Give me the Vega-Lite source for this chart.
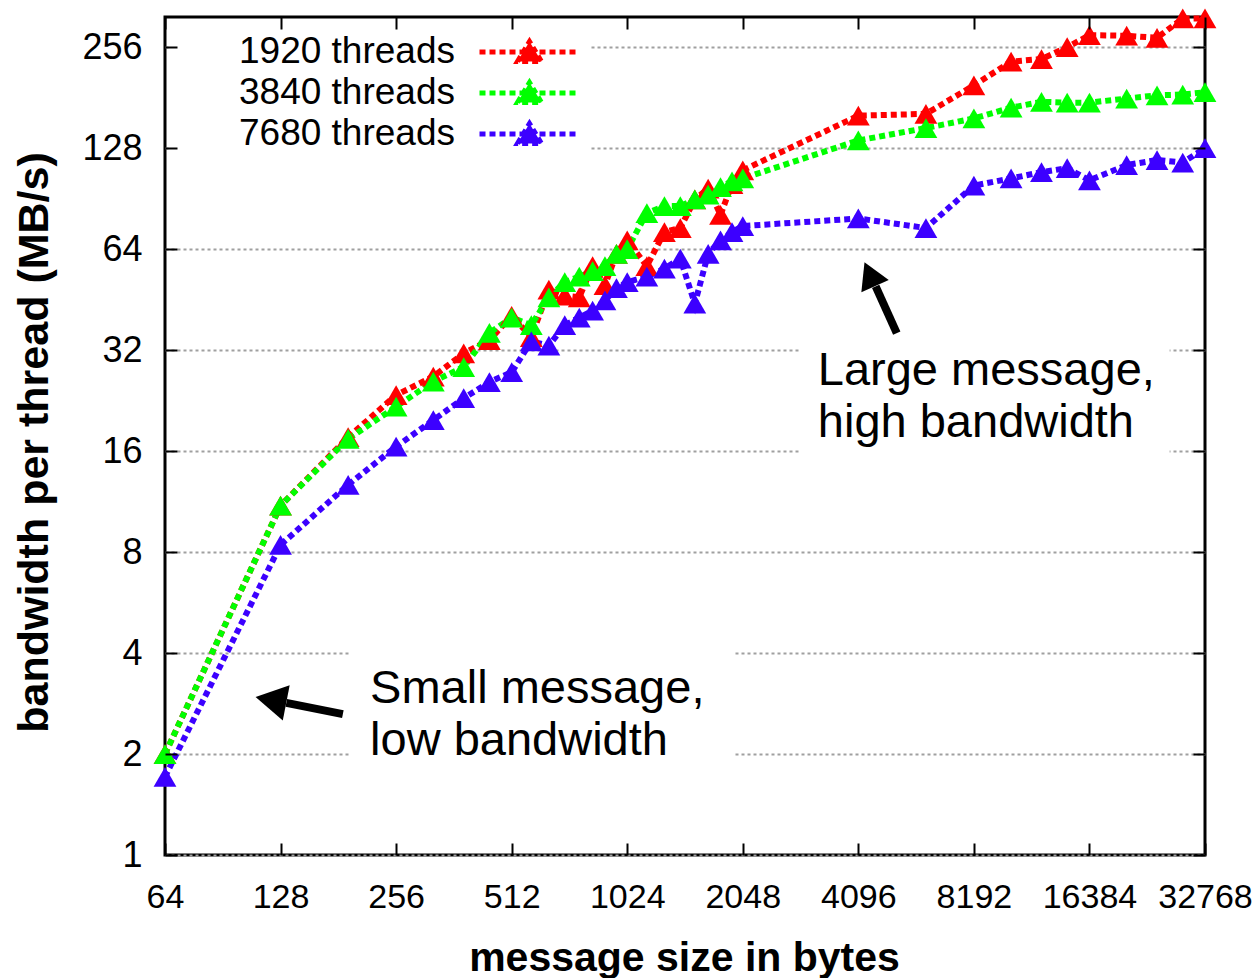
{
  "$schema": "https://vega.github.io/schema/vega-lite/v6.json",
  "width": 1040,
  "height": 838,
  "autosize": {"type": "none"},
  "padding": {"left": 165, "top": 17, "right": 55, "bottom": 123},
  "background": "white",
  "view": {"stroke": "#000", "strokeWidth": 3},
  "config": {"font": "Liberation Sans"},
  "datasets": {
    "series": [
      {"s": "1920 threads", "x": 64, "y": 2.0},
      {"s": "1920 threads", "x": 128, "y": 11.0},
      {"s": "1920 threads", "x": 192, "y": 17.6},
      {"s": "1920 threads", "x": 256, "y": 23.5},
      {"s": "1920 threads", "x": 320, "y": 26.7},
      {"s": "1920 threads", "x": 384, "y": 31.3},
      {"s": "1920 threads", "x": 448, "y": 34.3},
      {"s": "1920 threads", "x": 512, "y": 40.5},
      {"s": "1920 threads", "x": 576, "y": 35},
      {"s": "1920 threads", "x": 640, "y": 48.5},
      {"s": "1920 threads", "x": 704, "y": 46.5},
      {"s": "1920 threads", "x": 768, "y": 46},
      {"s": "1920 threads", "x": 832, "y": 57},
      {"s": "1920 threads", "x": 896, "y": 50},
      {"s": "1920 threads", "x": 960, "y": 62},
      {"s": "1920 threads", "x": 1024, "y": 68},
      {"s": "1920 threads", "x": 1152, "y": 57},
      {"s": "1920 threads", "x": 1280, "y": 72},
      {"s": "1920 threads", "x": 1408, "y": 74},
      {"s": "1920 threads", "x": 1536, "y": 90},
      {"s": "1920 threads", "x": 1664, "y": 97},
      {"s": "1920 threads", "x": 1792, "y": 81},
      {"s": "1920 threads", "x": 1920, "y": 100},
      {"s": "1920 threads", "x": 2048, "y": 110},
      {"s": "1920 threads", "x": 4096, "y": 160},
      {"s": "1920 threads", "x": 6144, "y": 162},
      {"s": "1920 threads", "x": 8192, "y": 197},
      {"s": "1920 threads", "x": 10240, "y": 232},
      {"s": "1920 threads", "x": 12288, "y": 236},
      {"s": "1920 threads", "x": 14336, "y": 256},
      {"s": "1920 threads", "x": 16384, "y": 278},
      {"s": "1920 threads", "x": 20480, "y": 277},
      {"s": "1920 threads", "x": 24576, "y": 273},
      {"s": "1920 threads", "x": 28672, "y": 312},
      {"s": "1920 threads", "x": 32768, "y": 312},
      {"s": "3840 threads", "x": 64, "y": 2.0},
      {"s": "3840 threads", "x": 128, "y": 11.0},
      {"s": "3840 threads", "x": 192, "y": 17.4},
      {"s": "3840 threads", "x": 256, "y": 21.7},
      {"s": "3840 threads", "x": 320, "y": 25.8},
      {"s": "3840 threads", "x": 384, "y": 28.5},
      {"s": "3840 threads", "x": 448, "y": 36},
      {"s": "3840 threads", "x": 512, "y": 40},
      {"s": "3840 threads", "x": 576, "y": 38},
      {"s": "3840 threads", "x": 640, "y": 46},
      {"s": "3840 threads", "x": 704, "y": 51},
      {"s": "3840 threads", "x": 768, "y": 53},
      {"s": "3840 threads", "x": 832, "y": 55},
      {"s": "3840 threads", "x": 896, "y": 57},
      {"s": "3840 threads", "x": 960, "y": 62},
      {"s": "3840 threads", "x": 1024, "y": 64},
      {"s": "3840 threads", "x": 1152, "y": 82},
      {"s": "3840 threads", "x": 1280, "y": 86},
      {"s": "3840 threads", "x": 1408, "y": 86},
      {"s": "3840 threads", "x": 1536, "y": 90},
      {"s": "3840 threads", "x": 1664, "y": 93},
      {"s": "3840 threads", "x": 1792, "y": 98},
      {"s": "3840 threads", "x": 1920, "y": 102},
      {"s": "3840 threads", "x": 2048, "y": 104},
      {"s": "3840 threads", "x": 4096, "y": 135},
      {"s": "3840 threads", "x": 6144, "y": 147},
      {"s": "3840 threads", "x": 8192, "y": 157},
      {"s": "3840 threads", "x": 10240, "y": 169},
      {"s": "3840 threads", "x": 12288, "y": 176},
      {"s": "3840 threads", "x": 14336, "y": 175},
      {"s": "3840 threads", "x": 16384, "y": 175},
      {"s": "3840 threads", "x": 20480, "y": 180},
      {"s": "3840 threads", "x": 24576, "y": 184},
      {"s": "3840 threads", "x": 28672, "y": 185},
      {"s": "3840 threads", "x": 32768, "y": 188},
      {"s": "7680 threads", "x": 64, "y": 1.71},
      {"s": "7680 threads", "x": 128, "y": 8.4},
      {"s": "7680 threads", "x": 192, "y": 12.7},
      {"s": "7680 threads", "x": 256, "y": 16.5},
      {"s": "7680 threads", "x": 320, "y": 19.8},
      {"s": "7680 threads", "x": 384, "y": 23},
      {"s": "7680 threads", "x": 448, "y": 25.7},
      {"s": "7680 threads", "x": 512, "y": 27.5},
      {"s": "7680 threads", "x": 576, "y": 34},
      {"s": "7680 threads", "x": 640, "y": 33},
      {"s": "7680 threads", "x": 704, "y": 38},
      {"s": "7680 threads", "x": 768, "y": 40},
      {"s": "7680 threads", "x": 832, "y": 42},
      {"s": "7680 threads", "x": 896, "y": 45},
      {"s": "7680 threads", "x": 960, "y": 49},
      {"s": "7680 threads", "x": 1024, "y": 51},
      {"s": "7680 threads", "x": 1152, "y": 53},
      {"s": "7680 threads", "x": 1280, "y": 56},
      {"s": "7680 threads", "x": 1408, "y": 60},
      {"s": "7680 threads", "x": 1536, "y": 44},
      {"s": "7680 threads", "x": 1664, "y": 62},
      {"s": "7680 threads", "x": 1792, "y": 68},
      {"s": "7680 threads", "x": 1920, "y": 72},
      {"s": "7680 threads", "x": 2048, "y": 75},
      {"s": "7680 threads", "x": 4096, "y": 79},
      {"s": "7680 threads", "x": 6144, "y": 74},
      {"s": "7680 threads", "x": 8192, "y": 99},
      {"s": "7680 threads", "x": 10240, "y": 104},
      {"s": "7680 threads", "x": 12288, "y": 108.6},
      {"s": "7680 threads", "x": 14336, "y": 111.6},
      {"s": "7680 threads", "x": 16384, "y": 102.7},
      {"s": "7680 threads", "x": 20480, "y": 114},
      {"s": "7680 threads", "x": 24576, "y": 118},
      {"s": "7680 threads", "x": 28672, "y": 116},
      {"s": "7680 threads", "x": 32768, "y": 128}
    ],
    "boxes": [
      {"x": 65.5, "x2": 818, "y": 122, "y2": 298},
      {"x": 2882, "x2": 26500, "y": 15.57, "y2": 34.3},
      {"x": 194, "x2": 1952, "y": 1.79, "y2": 4.37}
    ],
    "notes": [
      {"x": 3212, "y": 25.2, "t": "Large message,"},
      {"x": 3212, "y": 17.6, "t": "high bandwidth"},
      {"x": 219, "y": 2.84, "t": "Small message,"},
      {"x": 219, "y": 1.99, "t": "low bandwidth"}
    ],
    "shafts": [
      {"x": 5158, "y": 35.96, "x2": 4545, "y2": 49.6},
      {"x": 186, "y": 2.63, "x2": 132.5, "y2": 2.84}
    ]
  },
  "resolve": {"axis": {"x": "independent", "y": "independent"}},
  "layer": [
    {
      "data": {"name": "boxes"},
      "mark": {"type": "rect", "fill": "white"},
      "encoding": {
        "x": {"field": "x", "type": "quantitative",
          "scale": {"type": "log", "base": 2, "domain": [64, 32768], "nice": false},
          "axis": {"orient": "top", "values": [64, 128, 256, 512, 1024, 2048, 4096, 8192, 16384, 32768], "labels": false, "domain": false, "grid": false, "ticks": true, "tickSize": -12, "tickWidth": 2, "tickColor": "#000", "title": null, "zindex": 1}},
        "x2": {"field": "x2"},
        "y": {"field": "y", "type": "quantitative",
          "scale": {"type": "log", "base": 2, "domain": [1, 315], "nice": false},
          "axis": {"orient": "right", "values": [1, 2, 4, 8, 16, 32, 64, 128, 256], "labels": false, "domain": false, "grid": false, "ticks": true, "tickSize": -12, "tickWidth": 2, "tickColor": "#000", "title": null, "zindex": 1}},
        "y2": {"field": "y2"}
      }
    },
    {
      "data": {"name": "series"},
      "encoding": {
        "x": {"field": "x", "type": "quantitative",
          "scale": {"type": "log", "base": 2, "domain": [64, 32768], "nice": false},
          "axis": {"orient": "bottom", "values": [64, 128, 256, 512, 1024, 2048, 4096, 8192, 16384, 32768], "format": "d", "grid": false, "domain": false, "tickSize": -12, "tickWidth": 2, "tickColor": "#000", "labelFont": "Liberation Sans", "labelFontSize": 34, "labelColor": "#000", "labelPadding": 37, "labelFlush": false, "labelOverlap": false, "title": "message size in bytes", "titleFont": "Liberation Sans", "titleFontSize": 41, "titleFontWeight": "bold", "titleColor": "#000", "titleX": 519, "titleY": 115, "titleAlign": "center", "titleBaseline": "alphabetic", "zindex": 1}},
        "y": {"field": "y", "type": "quantitative",
          "scale": {"type": "log", "base": 2, "domain": [1, 315], "nice": false},
          "axis": {"orient": "left", "values": [1, 2, 4, 8, 16, 32, 64, 128, 256], "format": "d", "grid": false, "domain": false, "tickSize": -12, "tickWidth": 2, "tickColor": "#000", "labelFont": "Liberation Sans", "labelFontSize": 36, "labelColor": "#000", "labelPadding": 35, "labelFlush": false, "labelOverlap": false, "title": "bandwidth per thread (MB/s)", "titleFont": "Liberation Sans", "titleFontSize": 43, "titleFontWeight": "bold", "titleColor": "#000", "titleAngle": -90, "titleX": -131, "titleY": 425, "titleAlign": "center", "titleBaseline": "middle", "zindex": 1}},
        "color": {"field": "s", "type": "nominal",
          "scale": {"domain": ["1920 threads", "3840 threads", "7680 threads"], "range": ["#ff0000", "#00ff00", "#3c00ff"]},
          "legend": {"orient": "none", "legendX": 62, "legendY": 16.5, "title": null, "padding": 0,
            "symbolType": "M-5,0L5,0M-1.2,0.95L0,-1.05L1.2,0.95Z", "symbolSize": 400, "symbolStrokeWidth": 5, "symbolDash": [6, 4], "symbolOffset": 284,
            "labelOffset": -93, "labelAlign": "right", "labelFont": "Liberation Sans", "labelFontSize": 37, "labelColor": "#000", "labelLimit": 500, "rowPadding": 1,
            "encode": {"symbols": {"update": {"fill": {"scale": "color", "field": "value"}, "stroke": {"scale": "color", "field": "value"}, "opacity": {"value": 1}}}}}}
      },
      "layer": [
        {"mark": {"type": "line", "strokeWidth": 6, "strokeDash": [6, 4], "strokeCap": "butt"}},
        {"mark": {"type": "point", "shape": "triangle-up", "filled": true, "size": 520, "opacity": 1, "strokeWidth": 0}}
      ]
    },
    {
      "data": {"name": "notes"},
      "mark": {"type": "text", "align": "left", "baseline": "alphabetic", "font": "Liberation Sans", "fontSize": 47, "color": "#000"},
      "encoding": {
        "x": {"field": "x", "type": "quantitative",
          "scale": {"type": "log", "base": 2, "domain": [64, 32768], "nice": false}, "axis": null},
        "y": {"field": "y", "type": "quantitative",
          "scale": {"type": "log", "base": 2, "domain": [1, 315], "nice": false},
          "axis": {"orient": "left", "values": [1, 2, 4, 8, 16, 32, 64, 128, 256], "labels": false, "ticks": false, "domain": false, "grid": true, "gridColor": "#a0a0a0", "gridDash": [3, 3], "gridWidth": 2, "gridOpacity": 1, "title": null, "zindex": 0}},
        "text": {"field": "t"}
      }
    },
    {
      "data": {"name": "shafts"},
      "mark": {"type": "rule", "strokeWidth": 8, "color": "#000", "strokeCap": "butt"},
      "encoding": {
        "x": {"field": "x", "type": "quantitative",
          "scale": {"type": "log", "base": 2, "domain": [64, 32768], "nice": false}, "axis": null},
        "y": {"field": "y", "type": "quantitative",
          "scale": {"type": "log", "base": 2, "domain": [1, 315], "nice": false}, "axis": null},
        "x2": {"field": "x2"},
        "y2": {"field": "y2"}
      }
    },
    {
      "data": {"values": [{"x": 4387, "y": 53.9}]},
      "mark": {"type": "point", "shape": "triangle-up", "filled": true, "size": 900, "angle": 336, "color": "#000", "opacity": 1},
      "encoding": {
        "x": {"field": "x", "type": "quantitative",
          "scale": {"type": "log", "base": 2, "domain": [64, 32768], "nice": false}, "axis": null},
        "y": {"field": "y", "type": "quantitative",
          "scale": {"type": "log", "base": 2, "domain": [1, 315], "nice": false}, "axis": null}
      }
    },
    {
      "data": {"values": [{"x": 120.8, "y": 2.9}]},
      "mark": {"type": "point", "shape": "triangle-up", "filled": true, "size": 1300, "angle": 281, "color": "#000", "opacity": 1},
      "encoding": {
        "x": {"field": "x", "type": "quantitative",
          "scale": {"type": "log", "base": 2, "domain": [64, 32768], "nice": false}, "axis": null},
        "y": {"field": "y", "type": "quantitative",
          "scale": {"type": "log", "base": 2, "domain": [1, 315], "nice": false}, "axis": null}
      }
    }
  ]
}
